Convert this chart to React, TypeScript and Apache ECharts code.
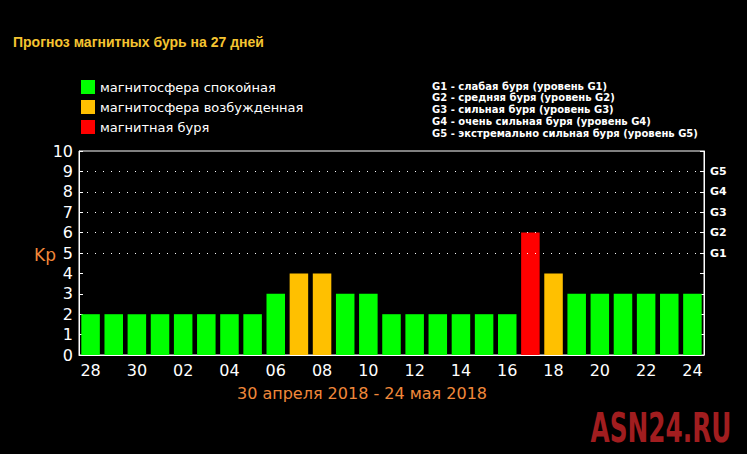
import React, { useEffect, useRef } from "react";
import * as echarts from "echarts";

const days = ["28","29","30","01","02","03","04","05","06","07","08","09","10","11","12","13","14","15","16","17","18","19","20","21","22","23","24"];
const kp = [2,2,2,2,2,2,2,2,3,4,4,3,3,2,2,2,2,2,2,6,4,3,3,3,3,3,3];
const title = "Прогноз магнитных бурь на 27 дней";
const legendLabels = ["магнитосфера спокойная", "магнитосфера возбужденная", "магнитная буря"];
const legendColors = ["#00ff00", "#ffc000", "#ff0000"];
const gLegend = [
  "G1 - слабая буря (уровень G1)",
  "G2 - средняя буря (уровень G2)",
  "G3 - сильная буря (уровень G3)",
  "G4 - очень сильная буря (уровень G4)",
  "G5 - экстремально сильная буря (уровень G5)",
];
const gLevels = [5, 6, 7, 8, 9];
const dateRange = "30 апреля 2018 - 24 мая 2018";
const watermark = "ASN24.RU";

function colorFor(v: number) {
  if (v >= 5) return legendColors[2];
  if (v >= 4) return legendColors[1];
  return legendColors[0];
}

export default function App() {
  const ref = useRef<HTMLDivElement>(null);
  useEffect(() => {
    const chart = echarts.init(ref.current!, null, { renderer: "svg" });
    const graphics: any[] = [
      {
        type: "text", x: 13, y: 42,
        style: { text: title, fill: "#f5c431", font: "bold 14px 'Liberation Sans', Arial, sans-serif", verticalAlign: "middle" },
      },
    ];
    legendLabels.forEach((t, i) => {
      graphics.push({ type: "rect", shape: { x: 81, y: 80 + i * 20, width: 14, height: 14 }, style: { fill: legendColors[i] } });
      graphics.push({ type: "text", x: 100, y: 87 + i * 20, style: { text: t, fill: "#ffffff", font: "13px 'DejaVu Sans', sans-serif", verticalAlign: "middle" } });
    });
    gLegend.forEach((t, i) => {
      graphics.push({ type: "text", x: 432, y: 86 + i * 11.8, style: { text: t, fill: "#ffffff", font: "bold 10px 'DejaVu Sans', sans-serif", verticalAlign: "middle" } });
    });
    graphics.push({ type: "text", x: 34, y: 255, style: { text: "Kp", fill: "#f0883a", font: "17px 'DejaVu Sans', sans-serif", verticalAlign: "middle" } });
    graphics.push({ type: "text", x: 362, y: 393, style: { text: dateRange, fill: "#f0883a", font: "16px 'DejaVu Sans', sans-serif", align: "center", verticalAlign: "middle" } });
    graphics.push({
      type: "text", x: 661, y: 428, scaleX: 0.62, scaleY: 1,
      style: { text: watermark, fill: "#a11d1f", font: "bold 40px 'DejaVu Sans', sans-serif", align: "center", verticalAlign: "middle" },
    });

    chart.setOption({
      animation: false,
      backgroundColor: "#000000",
      grid: { left: 79, right: 43, top: 151, bottom: 99, show: true, borderColor: "#ffffff", borderWidth: 1 },
      xAxis: {
        type: "category",
        data: days,
        axisLine: { lineStyle: { color: "#ffffff" } },
        axisTick: { inside: true, length: 4, interval: 0, lineStyle: { color: "#ffffff" } },
        axisLabel: { interval: 1, color: "#ffffff", fontSize: 16, fontFamily: "DejaVu Sans", margin: 7 },
      },
      yAxis: [
        {
          type: "value", min: 0, max: 10, interval: 1,
          axisLine: { show: true, lineStyle: { color: "#ffffff" } },
          axisTick: { show: true, inside: true, length: 4, lineStyle: { color: "#ffffff" } },
          axisLabel: { color: "#ffffff", fontSize: 16, fontFamily: "DejaVu Sans", margin: 6 },
          splitLine: { show: false },
        },
        {
          type: "value", min: 0, max: 10, interval: 1, position: "right",
          axisLine: { show: true, lineStyle: { color: "#ffffff" } },
          axisTick: { show: true, inside: true, length: 4, lineStyle: { color: "#ffffff" } },
          axisLabel: {
            color: "#ffffff", fontSize: 11, fontWeight: "bold", fontFamily: "DejaVu Sans", margin: 6,
            formatter: (v: number) => { const i = gLevels.indexOf(v); return i >= 0 ? "G" + (i + 1) : ""; },
          },
          splitLine: { show: false },
        },
      ],
      series: [
        {
          type: "line", data: [], z: 1, silent: true,
          markLine: {
            silent: true, symbol: "none", label: { show: false },
            lineStyle: { color: "#ffffff", type: [1, 7], width: 1 },
            data: gLevels.map((v) => ({ yAxis: v })),
          },
        },
        {
          type: "bar", z: 3, barCategoryGap: "20%",
          data: kp.map((v) => ({ value: v, itemStyle: { color: colorFor(v) } })),
        },
      ],
      graphic: graphics,
    });
    return () => chart.dispose();
  }, []);
  return <div ref={ref} style={{ position: "absolute", left: 0, top: 0, width: 747, height: 454, background: "#000" }} />;
}
